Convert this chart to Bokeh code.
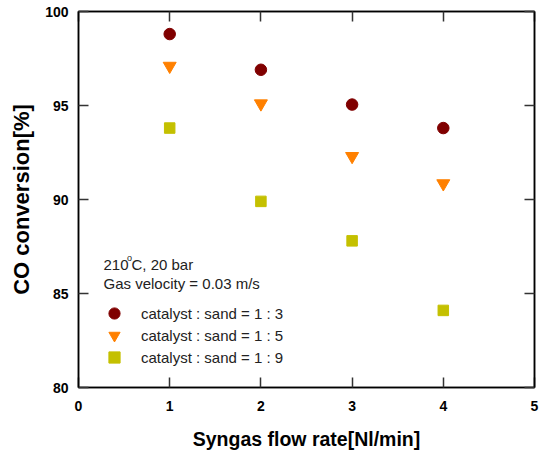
from bokeh.plotting import figure
from bokeh.models import LinearAxis, Legend, LegendItem, Label, FixedTicker, Range1d
from bokeh.embed import file_html
from bokeh.resources import INLINE

flow_rate = [1, 2, 3, 4]
ratio_1_3 = [98.8, 96.9, 95.05, 93.8]
ratio_1_5 = [97.1, 95.1, 92.3, 90.85]
ratio_1_9 = [93.8, 89.9, 87.8, 84.1]
series_labels = ["catalyst : sand = 1 : 3", "catalyst : sand = 1 : 5", "catalyst : sand = 1 : 9"]
x_ticks = [0, 1, 2, 3, 4, 5]
y_ticks = [80, 85, 90, 95, 100]

p = figure(width=546, height=458, output_backend="svg", toolbar_location=None,
           x_range=Range1d(0, 5), y_range=Range1d(80, 100),
           min_border_left=78, min_border_right=12, min_border_top=11, min_border_bottom=71,
           background_fill_color="white", border_fill_color="white")
p.grid.visible = False
p.outline_line_color = "black"
p.outline_line_width = 1.5

r1 = p.scatter(flow_rate, ratio_1_3, marker="circle", size=11.5, color="#800000")
r2 = p.scatter(flow_rate, ratio_1_5, marker="inverted_triangle", size=13, color="#ff8000")
r3 = p.scatter(flow_rate, ratio_1_9, marker="square", size=10.5, color="#c4c000")

def style_axis(ax, ticks, labels=True):
    ax.ticker = FixedTicker(ticks=ticks)
    ax.axis_line_color = "black"
    ax.axis_line_width = 1.5
    ax.major_tick_in = 10
    ax.major_tick_out = 0
    ax.major_tick_line_color = "#333333"
    ax.major_tick_line_width = 1.5
    ax.minor_tick_line_color = None
    if labels:
        ax.major_label_text_font = "Liberation Sans"
        ax.major_label_text_font_style = "bold"
        ax.major_label_text_font_size = "14px"
        ax.major_label_text_color = "black"
    else:
        ax.major_label_overrides = {t: "" for t in ticks}
        ax.major_label_text_font_size = "2px"
        ax.major_label_standoff = 0

xa = p.xaxis[0]
style_axis(xa, x_ticks)
xa.major_label_standoff = 13
xa.axis_label = "Syngas flow rate[Nl/min]"
xa.axis_label_text_font = "Liberation Sans"
xa.axis_label_text_font_style = "bold"
xa.axis_label_text_font_size = "19.5px"
xa.axis_label_text_color = "black"
xa.axis_label_standoff = 14

ya = p.yaxis[0]
style_axis(ya, y_ticks)
ya.major_label_standoff = 10
ya.axis_label = "CO conversion[%]"
ya.axis_label_text_font = "Liberation Sans"
ya.axis_label_text_font_style = "bold"
ya.axis_label_text_font_size = "22px"
ya.axis_label_text_color = "black"
ya.axis_label_standoff = 8

top = LinearAxis()
style_axis(top, x_ticks, labels=False)
p.add_layout(top, "above")
right = LinearAxis()
style_axis(right, y_ticks, labels=False)
p.add_layout(right, "right")

renderers = [r1, r2, r3]
legend_bottoms = [60, 38, 16]
for lab, rend, yb in zip(series_labels, renderers, legend_bottoms):
    lg = Legend(items=[LegendItem(label=lab, renderers=[rend])],
                location=(22, yb), padding=0, margin=0, spacing=0,
                glyph_width=28, glyph_height=28, label_height=22, label_standoff=13,
                label_text_font="Liberation Sans", label_text_font_size="15px",
                label_text_color="#222222", background_fill_alpha=0,
                border_line_color=None)
    p.add_layout(lg)

font = "Liberation Sans"
p.add_layout(Label(x=25, y=123, x_units="screen", y_units="screen", text="210",
                   text_font=font, text_font_size="15px", text_color="#222222",
                   text_baseline="alphabetic"))
p.add_layout(Label(x=48.5, y=130, x_units="screen", y_units="screen", text="o",
                   text_font=font, text_font_size="9px", text_color="#222222",
                   text_baseline="alphabetic"))
p.add_layout(Label(x=53, y=123, x_units="screen", y_units="screen", text="C, 20 bar",
                   text_font=font, text_font_size="15px", text_color="#222222",
                   text_baseline="alphabetic"))
p.add_layout(Label(x=25, y=104, x_units="screen", y_units="screen", text="Gas velocity = 0.03 m/s",
                   text_font=font, text_font_size="15px", text_color="#222222",
                   text_baseline="alphabetic"))

open("out.html", "w").write(file_html(p, INLINE))
